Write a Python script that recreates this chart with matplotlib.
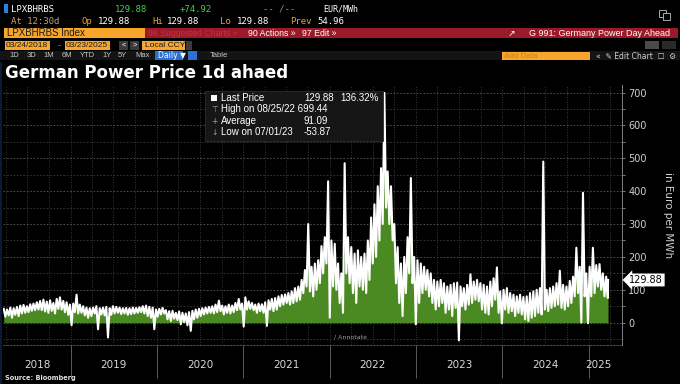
import pandas as pd
import matplotlib.pyplot as plt
from matplotlib.patches import Rectangle
import matplotlib.transforms as mtransforms

W, H = 680, 384

# two-week swing highs / lows, EUR/MWh
hi_2018 = [42, 40, 46, 44, 48, 52, 54, 50, 56, 58, 62, 66, 70, 64, 68, 60, 72, 77, 66, 62, 55]
lo_2018 = [18, 22, 15, 24, 20, 28, 30, 32, 36, 38, 40, 38, 34, 30, 36, 28, 42, 40, 32, 24, -8]
hi_2019 = [58, 85, 55, 50, 46, 44, 46, 50, 44, 46, 48, 44, 50, 48, 46, 44, 45, 44, 46, 45,
           47, 50, 52, 48, 46, 40]
lo_2019 = [32, 28, 30, 22, 15, 20, 28, -20, 25, 22, -45, 24, 28, 30, 26, 28, 24, 26, 28, 30,
           32, 28, 20, 15, -20, 18]
hi_2020 = [42, 45, 38, 35, 36, 30, 34, 30, 28, 32, 36, 40, 42, 44, 46, 48, 50, 55, 67, 52,
           50, 55, 52, 60, 72, 58]
lo_2020 = [25, 28, 10, 5, 12, 8, -5, 2, -8, -25, 10, 15, 20, 25, 28, 30, 28, 32, 35, 25,
           30, 28, 32, 38, 40, -12]
hi_2021 = [77, 65, 60, 55, 58, 56, 62, 68, 72, 75, 80, 84, 86, 90, 95, 105, 110, 130, 160, 300,
           170, 180, 190, 233, 260, 430]
lo_2021 = [40, 42, 38, 30, 35, 30, -10, 40, 35, 40, 50, 55, 60, 55, 60, 65, 70, 90, 110, 95,
           80, 100, 120, 150, 180, 15]
hi_2022 = [250, 240, 180, 150, 485, 260, 230, 210, 220, 200, 210, 250, 320, 360, 415, 470, 699, 460, 415, 300,
           230, 180, 200, 260, 440, 200]
lo_2022 = [110, 100, 60, 30, 150, 120, 90, 60, 110, 100, 90, 130, 180, 200, 250, 300, 350, 300, 250, 120,
           60, 20, 90, 150, 120, -5]
hi_2023 = [190, 180, 170, 160, 150, 130, 125, 130, 120, 110, 115, 120, 122, 110, 105, 115, 147, 125, 130, 120,
           115, 110, 125, 135, 168, 95]
lo_2023 = [60, 90, 100, 80, 60, 40, 50, 60, 30, 40, 20, 45, -54, 50, 40, 55, 60, 70, 65, 40,
           30, 25, 50, 70, 30, -2]
hi_2024 = [100, 105, 90, 85, 80, 85, 78, 80, 90, 95, 100, 105, 490, 100, 105, 110, 120, 158, 115, 110,
           127, 140, 228, 170, 395, 150]
lo_2024 = [40, 30, 35, 20, 30, 25, 10, 5, 15, 20, 30, 25, 40, 35, 45, 50, 55, 45, 40, 50,
           60, 80, 90, 0, 80, -2]
hi_2025 = [170, 228, 175, 178, 150, 140]
lo_2025 = [80, 90, 110, 100, 80, 75]
last_price = 129.88

hi = hi_2018 + hi_2019 + hi_2020 + hi_2021 + hi_2022 + hi_2023 + hi_2024 + hi_2025
lo = lo_2018 + lo_2019 + lo_2020 + lo_2021 + lo_2022 + lo_2023 + lo_2024 + lo_2025

start = pd.Timestamp("2018-03-24")
end = pd.Timestamp("2025-03-23")
dates, vals = [], []
for i, (h, l) in enumerate(zip(hi, lo)):
    dates += [start + pd.Timedelta(days=14 * i), start + pd.Timedelta(days=14 * i + 7)]
    vals += [h, l]
dates.append(end)
vals.append(last_price)

fig = plt.figure(figsize=(6.8, 3.84), dpi=100, facecolor="black")


def box(x0, y0, x1, y1, color, **kw):
    fig.add_artist(Rectangle((x0 / W, 1 - y1 / H), (x1 - x0) / W, (y1 - y0) / H,
                             transform=fig.transFigure, facecolor=color,
                             edgecolor=kw.pop("edge", "none"), lw=0.6, **kw))


def txt(x, y, s, color="white", size=6.5, family="Liberation Sans", **kw):
    fig.text(x / W, 1 - y / H, s, color=color, fontsize=size, family=family,
             va="center", ha=kw.pop("ha", "left"), **kw)


mono = "DejaVu Sans Mono"
orange = "#f0a030"
green_txt = "#44d044"

# ---- header rows (terminal UI)
box(4, 4, 8, 13, "#2f7fe0")
txt(11, 9, "LPXBHRBS", size=6.5, family=mono)
txt(115, 9, "129.88", color=green_txt, size=6.5, family=mono)
txt(180, 9, "+74.92", color=green_txt, size=6.5, family=mono)
txt(263, 9, "-- /--", color="#909090", size=6.5, family=mono)
txt(323, 9, "EUR/MWh", size=6, family=mono)
box(659, 10, 666, 17, "none", edge="#c0c0c0")
box(663, 13, 670, 20, "black", edge="#c0c0c0")

txt(11, 21, "At 12:30d", color="#c8a070", size=6.5, family=mono)
txt(81, 21, "Op", color=orange, size=6.5, family=mono)
txt(98, 21, "129.88", size=6.5, family=mono)
txt(152, 21, "Hi", color=orange, size=6.5, family=mono)
txt(167, 21, "129.88", size=6.5, family=mono)
txt(220, 21, "Lo", color=orange, size=6.5, family=mono)
txt(237, 21, "129.88", size=6.5, family=mono)
txt(290, 21, "Prev", color=orange, size=6.5, family=mono)
txt(317, 21, "54.96", size=6.5, family=mono)

box(4, 28, 145, 38, "#f7a52b")
box(145, 28, 678, 38, "#9a1a2a")
txt(7, 33, "LPXBHRBS Index", color="#1a1a1a", size=7)
txt(148, 33, "96 Suggested Charts \u00bb", color="#c8303f", size=6.3)
txt(248, 33, "90 Actions \u00bb", size=6.3)
txt(302, 33, "97 Edit \u00bb", size=6.3)
txt(670, 33, "G 991: Germany Power Day Ahead", size=6.5, ha="right")
txt(508, 33, "\u2197", size=6.5, family="DejaVu Sans")

box(5, 41, 50, 50, "#f7a52b")
box(65, 41, 110, 50, "#f7a52b")
box(142, 41, 185, 50, "#f7a52b")
txt(6, 45.5, "03/24/2018", color="#1a1a1a", size=6)
txt(66, 45.5, "03/23/2025", color="#1a1a1a", size=6)
txt(58, 45.5, "-", color="#c0c0c0", size=6)
box(119, 41, 128, 50, "#3a3a3a")
box(130, 41, 139, 50, "#3a3a3a")
txt(123.5, 45.5, "<", size=5.5, ha="center")
txt(134.5, 45.5, ">", size=5.5, ha="center")
txt(145, 45.5, "Local CCY", color="#1a1a1a", size=6)
box(186, 41, 192, 50, "#3a3a3a")
box(645, 41, 659, 49, "#4a4a4a")
box(662, 41, 676, 49, "#2a2a2a")

box(0, 51, 680, 60, "#141414")
for x, s in [(9, "1D"), (27, "3D"), (43, "1M"), (62, "6M"), (80, "YTD"),
             (102, "1Y"), (118, "5Y"), (135, "Max")]:
    txt(x, 55.5, s, color="#c8c8c8", size=5.5)
box(155, 51, 183, 60, "#2d6fd2")
txt(158, 55.5, "Daily \u25bc", size=5.5, family="DejaVu Sans")
box(188, 51, 197, 60, "#2d6fd2")
txt(210, 55.5, "Table", color="#c8c8c8", size=5.5)
box(502, 52, 590, 60, "#f7a52b")
txt(504, 56, "Add Data", color="#c88020", size=5.8)
txt(596, 56, "\u00ab  \u270e Edit Chart  \u2610  \u2699", color="#d0d0d0", size=5.5,
    family="DejaVu Sans")

txt(5, 73, "German Power Price 1d ahaed", size=12, weight="bold", family="DejaVu Sans")
txt(5, 378, "Source: Bloomberg", size=4.8, weight="bold", color="#e0e0e0", family="DejaVu Sans")
box(0, 62, 2, 384, "#0b1a36")

# ---- chart
ax = fig.add_axes([3 / W, 1 - 345 / H, 619 / W, 260 / H])
ax.set_facecolor("black")

for q in pd.date_range("2018-04-01", "2025-04-01", freq="QS"):
    ax.axvline(q, color="#4a4a4a", lw=0.6, ls=(0, (1, 2)), zorder=0)
for v in range(-50, 701, 50):
    c = "#5a5a5a" if v % 100 == 0 else "#3a3a3a"
    ax.axhline(v, color=c, lw=0.6, ls=(0, (2, 2)), zorder=0)

ax.fill_between(dates, vals, 0, color="#4b8a22", lw=0, zorder=1)
ax.plot(dates, vals, color="white", lw=1.5, zorder=2)

ax.set_xlim(start - pd.Timedelta(days=3), end + pd.Timedelta(days=59))
ax.set_ylim(-68, 723)

year_starts = [pd.Timestamp(f"{y}-01-01") for y in range(2019, 2026)]
ax.set_xticks(year_starts)
ax.tick_params(axis="x", which="major", length=24, width=0.7, color="#5a5a5a",
               labelbottom=False)
mids, labs = [], []
for y in range(2018, 2026):
    a = max(start, pd.Timestamp(f"{y}-01-01"))
    b = min(end, pd.Timestamp(f"{y}-12-31"))
    mids.append(a + (b - a) / 2)
    labs.append(str(y))
ax.set_xticks(mids, minor=True)
ax.set_xticklabels(labs, minor=True)
ax.tick_params(axis="x", which="minor", length=0, pad=11, labelsize=7.5,
               labelcolor="#d8d8d8")

ax.yaxis.tick_right()
ax.set_yticks(range(0, 701, 100))
ax.set_yticks(range(50, 701, 100), minor=True)
ax.tick_params(axis="y", which="both", length=2.5, width=0.6, color="#909090",
               labelsize=7, labelcolor="#d0d0d0", pad=2)
ax.yaxis.set_label_position("right")
ax.set_ylabel("in Euro per MWh", rotation=270, color="#d0d0d0", fontsize=7.5,
              labelpad=19)

for side in ["left", "top"]:
    ax.spines[side].set_visible(False)
ax.spines["right"].set_color("#808080")
ax.spines["right"].set_linewidth(0.7)
ax.spines["bottom"].set_color("#5a5a5a")
ax.spines["bottom"].set_linestyle((0, (2, 2)))
ax.spines["bottom"].set_linewidth(0.6)

# last price tag
trans = mtransforms.blended_transform_factory(ax.transAxes, ax.transData)
ax.text(1.012, last_price, "129.88", transform=trans, fontsize=7, color="black",
        va="center", ha="left",
        bbox=dict(boxstyle="larrow,pad=0.15", fc="white", ec="none"))

ax.text(0.535, 0.03, "\u2215 Annotate", transform=ax.transAxes, fontsize=4.5,
        color="#a0a0a0", ha="left", va="center")

# ---- legend panel
box(205, 91, 383, 141, "#161616", edge="#2c2c2c")
box(211, 95, 217, 101, "white")
txt(221, 98, "Last Price", size=7)
txt(304, 98, "129.88", size=7)
txt(340, 98, "136.32%", size=7)
txt(211, 109.5, "\u22a4", color="#a0a0a0", size=5.5, family="DejaVu Sans")
txt(221, 109.5, "High on 08/25/22 699.44", size=7)
txt(211, 121, "+", color="#a0a0a0", size=5.5, family="DejaVu Sans")
txt(221, 121, "Average", size=7)
txt(304, 121, "91.09", size=7)
txt(211, 132.5, "\u2193", color="#a0a0a0", size=5.5, family="DejaVu Sans")
txt(221, 132.5, "Low on 07/01/23", size=7)
txt(304, 132.5, "-53.87", size=7)

fig.savefig("out.png", dpi=100, facecolor="black")
